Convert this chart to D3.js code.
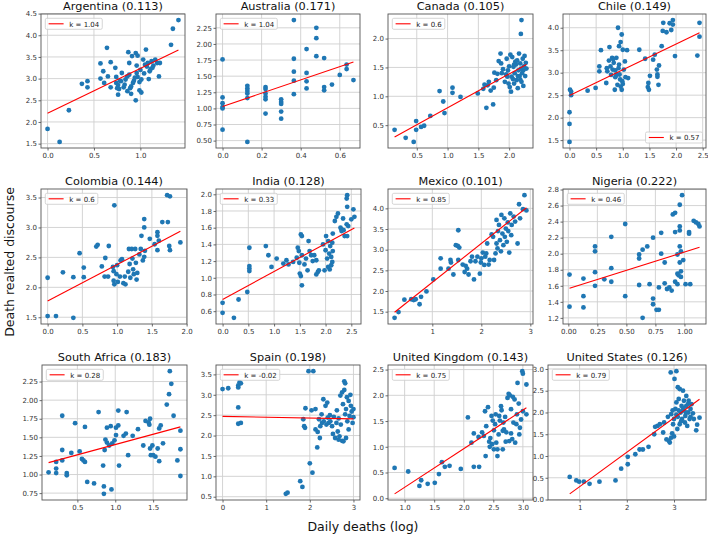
<!DOCTYPE html>
<html><head><meta charset="utf-8">
<script src="https://cdn.jsdelivr.net/npm/d3@7"></script>
<style>body{margin:0;background:#fff} svg{display:block;font-family:"DejaVu Sans",sans-serif}</style>
</head><body><svg id="c" width="708" height="538"></svg>
<script>
const countries = ["Argentina","Australia","Canada","Chile","Colombia","India","Mexico","Nigeria","South Africa","Spain","United Kingdom","United States"];
const scores = ["0.113","0.171","0.105","0.149","0.144","0.128","0.101","0.222","0.183","0.198","0.143","0.126"];
const kLabels = ["1.04","1.04","0.6","0.57","0.6","0.33","0.85","0.46","0.28","-0.02","0.75","0.79"];
const fitIntercept = [2.2,1.03,0.213,2.49,1.77,0.74,1.27,1.565,1.127,2.47,-0.5375,-0.494];
const fitSlope = [1.035,1.03,0.587,0.574,0.61,0.335,0.94,0.455,0.276,-0.02,0.75,0.79];
const xTicks = [[0,0.5,1.0],[0,0.2,0.4,0.6],[0.5,1.0,1.5,2.0],[0,0.5,1.0,1.5,2.0,2.5],[0,0.5,1.0,1.5,2.0],[0,0.5,1.0,1.5,2.0,2.5],[1,2,3],[0,0.25,0.5,0.75,1.0],[0.5,1.0,1.5],[0,1,2,3],[1.0,1.5,2.0,2.5,3.0],[1,2,3]];
const yTicks = [[1.5,2,2.5,3,3.5,4,4.5],[0.5,0.75,1,1.25,1.5,1.75,2,2.25],[0.5,1,1.5,2],[1.5,2,2.5,3,3.5,4],[1.5,2,2.5,3,3.5],[0.6,0.8,1,1.2,1.4,1.6,1.8,2],[1.5,2,2.5,3,3.5,4],[1.2,1.4,1.6,1.8,2,2.2,2.4,2.6,2.8],[0.75,1,1.25,1.5,1.75,2,2.25],[0.5,1,1.5,2,2.5,3,3.5],[0,0.5,1,1.5,2,2.5],[0,0.5,1,1.5,2,2.5,3]];
const xDecimals = [1,1,1,1,1,1,0,2,1,0,1,0];
const yDecimals = [1,2,1,1,1,1,1,1,2,1,1,1];
const xLimitLow = [null,null,null,null,null,null,null,null,null,null,null,0.33];

const argentina = [[0,1.84],[0.13,1.54],[0.23,2.27],[0.37,2.88],[0.43,2.94],[0.43,2.80],[0.57,3.35],[0.57,3.0],[0.60,3.17],[0.61,2.9],[0.64,3.71],[0.65,3.05],[0.68,3.38],[0.68,2.8],[0.73,3.25],[0.74,3.04],[0.74,2.9],[0.76,2.63],[0.77,2.76],[0.79,2.94],[0.80,3.13],[0.82,2.8],[0.84,2.98],[0.86,2.71],[0.87,3.61],[0.88,3.36],[0.88,3.09],[0.89,2.78],[0.90,2.65],[0.91,3.52],[0.92,2.9],[0.93,2.95],[0.95,2.5],[0.95,3.59],[0.96,3.3],[0.96,3.13],[0.97,3.53],[0.97,3.04],[0.99,2.92],[0.99,2.73],[1.01,2.68],[1.01,2.98],[1.03,3.44],[1.04,3.12],[1.06,3.67],[1.07,3.28],[1.08,3.36],[1.09,2.99],[1.10,3.17],[1.12,3.40],[1.13,3.25],[1.14,3.3],[1.16,3.44],[1.18,3.36],[1.20,3.05],[1.21,3.36],[1.33,3.78],[1.35,4.15],[1.41,4.35],[0.78,2.95],[0.83,2.86],[0.86,3.05],[0.94,3.02],[1.0,3.2],[1.05,3.32],[1.11,3.22],[0.76,2.85],[0.9,2.82],[0.75,2.78]];
const australia = [[0,1.76],[0,1.17],[0,1.08],[0,1.02],[0,0.67],[0,1.0],[0.127,1.35],[0.127,1.31],[0.127,1.27],[0.127,1.23],[0.127,1.16],[0.127,0.48],[0.22,1.33],[0.22,1.30],[0.22,1.23],[0.22,1.18],[0.22,1.14],[0.22,0.92],[0.3,1.14],[0.3,1.10],[0.3,1.07],[0.3,0.95],[0.3,0.84],[0.365,2.37],[0.365,1.77],[0.365,1.57],[0.365,1.43],[0.365,1.22],[0.43,1.92],[0.43,1.55],[0.43,1.42],[0.43,1.31],[0.48,2.25],[0.48,2.09],[0.48,1.81],[0.52,1.78],[0.52,1.33],[0.52,1.28],[0.56,1.37],[0.6,1.52],[0.635,1.68],[0.635,1.61],[0.67,1.44]];
const canada = [[0.14,0.42],[0.32,0.28],[0.45,0.21],[0.49,0.57],[0.49,0.42],[0.57,0.47],[0.62,0.49],[0.72,0.66],[0.87,1.09],[0.93,0.91],[0.95,0.71],[1.08,1.15],[1.08,1.06],[1.21,0.99],[1.49,1.05],[1.63,0.80],[1.74,0.86],[1.65,1.19],[1.70,1.10],[1.75,1.15],[1.79,1.28],[1.81,1.39],[1.83,1.61],[1.86,1.74],[1.87,1.57],[1.88,1.40],[1.93,1.25],[1.96,1.65],[1.97,1.34],[1.98,1.45],[2.01,1.16],[2.03,1.08],[2.04,1.34],[2.05,1.68],[2.07,1.51],[2.08,1.22],[2.09,1.40],[2.10,1.60],[2.12,1.28],[2.14,1.14],[2.15,1.45],[2.16,1.74],[2.17,1.35],[2.18,1.57],[2.19,2.08],[2.20,2.32],[2.20,1.25],[2.22,1.65],[2.23,1.45],[1.90,1.47],[1.95,1.38],[2.00,1.52],[2.06,1.30],[2.11,1.55],[2.13,1.62],[2.19,1.48],[2.21,1.40],[2.24,1.52],[2.25,1.70],[2.27,1.58],[2.26,1.35],[2.28,1.48],[1.60,1.20],[1.58,1.13],[1.67,1.25],[1.76,1.41],[1.99,1.22],[2.02,1.72],[2.08,1.55],[2.14,1.35],[2.18,1.29],[2.23,1.18]];
const chile = [[0,1.46],[0,1.86],[0,2.12],[0.03,2.5],[0.03,2.58],[0.01,2.62],[0.34,2.6],[0.49,2.66],[0.56,3.14],[0.56,3.03],[0.59,3.5],[0.69,2.77],[0.71,3.03],[0.74,3.27],[0.75,3.57],[0.77,3.14],[0.80,3.33],[0.81,3.07],[0.83,3.22],[0.85,2.62],[0.86,2.90],[0.88,3.33],[0.90,2.73],[0.91,4.0],[0.93,3.59],[0.93,3.18],[0.94,2.96],[0.96,3.68],[0.96,2.69],[0.98,2.62],[0.98,3.85],[0.99,2.81],[1.0,3.51],[1.02,3.07],[1.04,3.25],[1.05,2.9],[1.08,3.5],[1.10,2.88],[0.78,2.95],[0.86,3.05],[0.92,3.1],[0.95,2.85],[1.0,2.75],[0.82,3.3],[0.7,3.1],[0.88,2.95],[1.31,3.51],[1.42,3.31],[1.47,2.68],[1.49,2.62],[1.51,2.93],[1.48,2.77],[1.57,3.29],[1.60,3.40],[1.64,3.07],[1.65,2.96],[1.67,2.73],[1.68,3.16],[1.65,2.91],[1.73,3.59],[1.76,4.11],[1.75,3.93],[1.82,3.90],[1.88,4.10],[1.91,3.95],[1.94,4.17],[1.94,4.07],[1.98,3.37],[2.40,3.38],[2.44,4.11],[2.44,3.80]];
const colombia = [[0,2.16],[0,1.52],[0.12,1.52],[0.22,2.25],[0.37,2.17],[0.37,1.49],[0.46,2.57],[0.52,2.33],[0.52,2.17],[0.70,2.68],[0.72,2.71],[0.78,2.35],[0.83,2.49],[0.82,2.18],[0.88,2.69],[0.87,2.18],[0.94,2.34],[0.96,3.37],[0.95,2.27],[0.95,2.11],[0.96,2.05],[0.99,2.22],[1.0,2.37],[1.01,2.09],[1.04,2.18],[1.05,2.45],[1.07,2.47],[1.09,2.07],[1.11,2.18],[1.12,2.05],[1.16,2.26],[1.17,2.64],[1.18,2.39],[1.19,2.16],[1.21,2.64],[1.22,2.48],[1.23,2.30],[1.24,2.22],[1.26,2.64],[1.27,2.41],[1.28,2.13],[1.29,2.24],[1.32,2.55],[1.34,2.64],[1.35,2.86],[1.37,2.45],[1.39,3.14],[1.39,3.0],[1.39,2.51],[1.40,2.61],[1.47,2.81],[1.54,2.72],[1.58,2.92],[1.58,2.86],[1.60,2.78],[1.58,2.62],[1.65,3.09],[1.72,3.54],[1.73,3.09],[1.76,3.52],[1.75,2.69],[1.76,2.62],[1.91,2.75]];
const india = [[0,0.70],[0,0.58],[0.22,0.52],[0.31,0.74],[0.48,0.83],[0.52,1.36],[0.52,1.14],[0.52,1.11],[0.52,1.08],[0.84,1.38],[0.89,1.27],[0.95,1.13],[1.05,1.23],[1.18,1.17],[1.24,1.21],[1.28,1.16],[1.37,1.19],[1.44,1.24],[1.46,1.36],[1.48,1.32],[1.49,1.18],[1.50,1.05],[1.52,1.02],[1.52,1.52],[1.54,1.50],[1.54,0.91],[1.54,1.27],[1.59,1.16],[1.62,1.23],[1.65,1.09],[1.67,1.44],[1.69,1.32],[1.72,1.27],[1.75,1.20],[1.78,1.27],[1.82,1.04],[1.85,1.07],[1.87,1.09],[1.82,1.21],[1.95,1.40],[1.98,1.09],[2.0,1.33],[2.01,1.50],[2.03,1.23],[2.05,1.13],[2.05,1.44],[2.07,1.29],[2.08,1.10],[2.09,1.38],[2.11,1.25],[2.11,1.15],[2.13,1.42],[2.14,1.53],[2.14,1.32],[2.13,1.19],[2.18,1.68],[2.21,1.73],[2.24,1.77],[2.29,1.60],[2.31,1.58],[2.31,1.56],[2.34,1.71],[2.35,1.57],[2.37,1.50],[2.41,1.64],[2.41,1.95],[2.42,1.99],[2.42,1.85],[2.44,1.62],[2.42,1.50],[2.50,1.70],[2.54,1.82],[2.56,1.73]];
const mexico = [[0.23,1.35],[0.31,1.49],[0.43,1.79],[0.57,1.80],[0.62,1.78],[0.66,1.80],[0.74,1.68],[0.77,1.86],[0.88,1.99],[1.02,2.28],[1.17,2.54],[1.17,2.79],[1.33,2.54],[1.37,2.75],[1.38,2.69],[1.43,2.40],[1.48,3.11],[1.53,3.47],[1.52,3.09],[1.55,3.05],[1.53,2.75],[1.62,2.64],[1.66,2.46],[1.68,2.61],[1.71,2.54],[1.74,2.40],[1.78,2.72],[1.81,2.83],[1.85,2.28],[1.88,2.72],[1.92,2.83],[1.97,2.42],[1.99,2.69],[2.0,2.79],[2.03,2.93],[2.06,2.63],[2.08,2.83],[2.10,2.91],[2.12,3.15],[2.15,2.64],[2.17,2.75],[2.21,3.37],[2.24,3.31],[2.26,2.75],[2.29,2.91],[2.31,3.72],[2.31,3.15],[2.33,3.03],[2.34,3.45],[2.36,3.60],[2.38,3.23],[2.40,2.96],[2.41,3.84],[2.43,3.39],[2.45,3.11],[2.47,3.76],[2.48,3.31],[2.50,3.51],[2.52,3.19],[2.54,3.66],[2.55,3.45],[2.57,2.93],[2.59,3.88],[2.61,3.35],[2.62,3.60],[2.66,3.80],[2.69,3.68],[2.74,3.15],[2.77,4.10],[2.79,3.76],[2.85,3.98],[2.88,4.32],[2.92,3.95]];
const nigeria = [[0.01,1.74],[0.01,1.34],[0.13,1.69],[0.13,1.47],[0.13,1.33],[0.23,2.09],[0.23,2.03],[0.23,1.77],[0.23,1.60],[0.31,1.68],[0.37,2.21],[0.37,1.82],[0.37,1.65],[0.49,2.37],[0.49,1.47],[0.61,1.99],[0.61,1.94],[0.61,1.61],[0.64,2.05],[0.64,1.20],[0.68,2.09],[0.70,1.62],[0.73,2.20],[0.73,1.44],[0.73,1.37],[0.76,1.30],[0.78,1.58],[0.78,1.30],[0.80,2.0],[0.80,2.26],[0.83,1.89],[0.83,1.63],[0.85,1.56],[0.87,1.58],[0.89,1.54],[0.90,2.49],[0.92,2.51],[0.92,1.65],[0.92,2.27],[0.94,1.75],[0.94,1.62],[0.94,1.99],[0.95,1.73],[0.96,1.89],[0.96,2.61],[0.96,2.34],[0.96,2.29],[0.96,2.09],[0.97,2.03],[0.97,1.78],[0.97,1.71],[0.98,2.73],[0.99,1.92],[1.01,1.62],[1.04,2.27],[1.04,2.25],[1.05,1.62],[1.08,2.41],[1.10,2.39],[1.12,2.37],[1.13,2.34]];
const southAfrica = [[0.12,1.03],[0.22,1.17],[0.22,1.08],[0.22,1.02],[0.30,1.79],[0.30,1.33],[0.30,1.19],[0.36,1.02],[0.36,0.99],[0.42,1.29],[0.47,1.69],[0.53,1.31],[0.56,1.21],[0.58,1.19],[0.60,1.17],[0.60,1.64],[0.63,0.90],[0.72,0.88],[0.78,1.84],[0.84,1.12],[0.85,0.84],[0.85,0.74],[0.86,1.33],[0.87,1.47],[0.89,1.63],[0.89,1.43],[0.92,1.39],[0.94,1.65],[0.95,0.80],[0.96,1.42],[0.99,1.46],[1.01,1.53],[1.01,1.63],[1.04,1.66],[1.04,1.86],[1.05,1.12],[1.11,1.52],[1.14,1.55],[1.15,1.84],[1.17,1.26],[1.23,1.52],[1.30,1.61],[1.37,1.39],[1.40,1.72],[1.44,1.70],[1.45,1.67],[1.46,1.75],[1.46,1.35],[1.47,1.26],[1.49,1.39],[1.50,1.26],[1.53,1.24],[1.56,1.35],[1.58,1.18],[1.58,1.62],[1.60,1.66],[1.63,1.42],[1.68,1.94],[1.71,2.08],[1.72,2.39],[1.74,2.22],[1.77,1.79],[1.82,1.19],[1.86,1.34],[1.86,0.98],[1.86,1.59]];
const spain = [[0,3.14],[0.13,3.16],[0.36,3.23],[0.36,3.18],[0.39,3.31],[0.42,3.28],[0.36,2.69],[0.36,2.29],[0.42,2.31],[1.45,0.57],[1.49,0.60],[1.78,0.88],[1.83,0.74],[1.85,2.40],[1.87,2.23],[1.89,2.19],[1.90,2.67],[1.97,3.58],[2.08,3.58],[2.0,1.32],[2.06,1.09],[2.04,2.62],[2.13,2.65],[2.13,2.15],[2.17,1.71],[2.18,2.09],[2.21,2.40],[2.23,1.94],[2.24,2.23],[2.27,2.52],[2.28,2.31],[2.31,2.89],[2.32,2.35],[2.36,2.73],[2.38,2.27],[2.40,2.81],[2.41,2.44],[2.43,2.31],[2.46,2.50],[2.47,2.35],[2.51,2.23],[2.53,2.04],[2.55,2.46],[2.58,1.94],[2.61,2.31],[2.62,2.62],[2.64,2.10],[2.66,1.90],[2.66,2.42],[2.68,1.98],[2.70,2.98],[2.71,2.27],[2.74,1.87],[2.74,3.06],[2.76,2.77],[2.77,1.86],[2.79,3.33],[2.79,3.12],[2.81,2.52],[2.81,3.28],[2.83,1.94],[2.83,2.65],[2.85,2.94],[2.86,2.35],[2.89,2.85],[2.89,2.15],[2.91,2.48],[2.93,3.0],[2.94,2.73],[2.96,2.59],[2.98,2.31],[3.0,2.45],[3.0,2.65]];
const unitedKingdom = [[0.83,0.59],[1.06,0.52],[1.25,0.24],[1.28,0.35],[1.39,0.28],[1.51,0.30],[1.58,0.47],[1.63,0.70],[1.68,0.61],[1.76,0.63],[1.95,0.57],[2.07,1.57],[2.13,1.08],[2.17,1.26],[2.17,0.61],[2.25,1.19],[2.26,0.61],[2.31,1.28],[2.34,1.21],[2.36,1.69],[2.37,0.82],[2.38,1.40],[2.41,1.77],[2.43,1.10],[2.44,1.00],[2.45,1.17],[2.47,1.60],[2.48,1.05],[2.49,1.51],[2.51,1.32],[2.51,0.95],[2.53,1.44],[2.54,1.63],[2.55,1.08],[2.57,0.82],[2.57,0.95],[2.59,1.24],[2.60,1.60],[2.61,1.51],[2.63,1.79],[2.64,1.71],[2.66,1.31],[2.66,0.95],[2.67,1.47],[2.68,1.34],[2.70,1.58],[2.71,1.10],[2.72,1.28],[2.74,1.95],[2.76,2.03],[2.77,1.11],[2.78,2.00],[2.80,1.26],[2.80,1.73],[2.82,1.15],[2.83,1.97],[2.84,1.47],[2.86,1.92],[2.87,1.08],[2.89,1.44],[2.90,1.63],[2.91,2.24],[2.93,1.84],[2.94,1.24],[2.95,1.37],[2.97,1.53],[2.99,2.47],[3.0,2.42],[3.0,1.69],[3.06,1.63],[3.06,2.21]];
const unitedStates = [[0.79,0.52],[0.93,0.44],[0.99,0.41],[1.09,0.41],[1.21,0.36],[1.42,0.41],[1.76,0.44],[1.88,0.71],[2.02,0.81],[2.02,0.98],[2.18,1.04],[2.27,1.15],[2.34,1.15],[2.46,1.21],[2.58,1.50],[2.60,1.67],[2.65,1.69],[2.70,1.73],[2.77,1.54],[2.79,1.77],[2.84,1.38],[2.87,1.90],[2.89,1.35],[2.91,1.31],[2.93,2.92],[2.94,1.96],[2.94,1.42],[2.96,1.52],[2.98,1.73],[3.0,1.85],[3.01,2.77],[3.03,2.08],[3.05,2.95],[3.05,2.23],[3.07,1.62],[3.08,2.58],[3.08,1.90],[3.10,2.31],[3.12,1.73],[3.12,2.54],[3.14,2.0],[3.16,2.15],[3.17,1.85],[3.19,2.50],[3.19,2.05],[3.21,2.27],[3.23,1.77],[3.24,1.92],[3.26,2.38],[3.26,2.15],[3.28,1.69],[3.30,2.0],[3.31,2.27],[3.33,1.85],[3.35,2.08],[3.37,2.19],[3.40,1.98],[3.42,1.85],[3.47,1.59],[3.49,1.72],[3.54,1.88],[3.0,1.45],[2.97,2.05],[3.05,1.95],[3.1,2.05],[3.15,1.8],[3.2,2.1],[3.25,2.0],[3.3,2.2],[3.35,1.9]];
const series = [argentina,australia,canada,chile,colombia,india,mexico,nigeria,southAfrica,spain,unitedKingdom,unitedStates];

const svg = d3.select("#c");
svg.append("rect").attr("width",708).attr("height",538).attr("fill","#fff");
const boxes = [
 [41,14,185,148],[216,14,360,148],[388,14,533,148],[563,14,706,148],
 [41,189,187,324],[216,189,361,324],[388,189,533,324],[563,189,706,324],
 [42,365,187,500],[216,365,360,500],[388,365,533,500],[548,365,706,500]
];
countries.forEach((name,i)=>{
  const [l,t,r,b] = boxes[i];
  const pts = series[i];
  const xmin = d3.min(pts,d=>d[0]), xmax = d3.max(pts,d=>d[0]);
  const ly = [fitIntercept[i]+fitSlope[i]*xmin, fitIntercept[i]+fitSlope[i]*xmax];
  const ymin = Math.min(d3.min(pts,d=>d[1]),...ly), ymax = Math.max(d3.max(pts,d=>d[1]),...ly);
  const px=(xmax-xmin)*0.05, py=(ymax-ymin)*0.05;
  const x0 = xLimitLow[i]!==null ? xLimitLow[i] : xmin-px;
  const x = d3.scaleLinear().domain([x0,xmax+px]).range([l,r]);
  const y = d3.scaleLinear().domain([ymin-py,ymax+py]).range([b,t]);
  const g = svg.append("g");
  g.selectAll(".gx").data(xTicks[i]).join("line").attr("x1",d=>x(d)).attr("x2",d=>x(d)).attr("y1",t).attr("y2",b).attr("stroke","#cfcfcf").attr("stroke-width",0.9);
  g.selectAll(".gy").data(yTicks[i]).join("line").attr("y1",d=>y(d)).attr("y2",d=>y(d)).attr("x1",l).attr("x2",r).attr("stroke","#cfcfcf").attr("stroke-width",0.9);
  const ax = g.append("g").attr("transform",`translate(0,${b})`)
    .call(d3.axisBottom(x).tickValues(xTicks[i]).tickFormat(d3.format("."+xDecimals[i]+"f")).tickSize(2.5).tickPadding(2.5));
  const ay = g.append("g").attr("transform",`translate(${l},0)`)
    .call(d3.axisLeft(y).tickValues(yTicks[i]).tickFormat(d3.format("."+yDecimals[i]+"f")).tickSize(2.5).tickPadding(1.5));
  [ax,ay].forEach(a=>{
    a.select(".domain").remove();
    a.selectAll("line").attr("stroke","#444").attr("stroke-width",0.8);
    a.selectAll("text").attr("font-size","7px").attr("fill","#333").attr("font-family","DejaVu Sans");
  });
  g.append("rect").attr("x",l).attr("y",t).attr("width",r-l).attr("height",b-t).attr("fill","none").attr("stroke","#555").attr("stroke-width",0.9);
  g.selectAll("circle").data(pts).join("circle").attr("cx",d=>x(d[0])).attr("cy",d=>y(d[1])).attr("r",2.4).attr("fill","#1f77b4");
  g.append("line").attr("x1",x(xmin)).attr("y1",y(ly[0])).attr("x2",x(xmax)).attr("y2",y(ly[1])).attr("stroke","#ff0000").attr("stroke-width",1.1);
  g.append("text").attr("x",(l+r)/2).attr("y",t-4.5).attr("text-anchor","middle").attr("font-size","11.3px").attr("fill","#111").text(`${name} (${scores[i]})`);
  const lg = g.append("g");
  const box = lg.append("rect").attr("rx",1.5).attr("fill","#fff").attr("fill-opacity",0.8).attr("stroke","#ccc").attr("stroke-width",0.8);
  const line = lg.append("line").attr("stroke","#ff0000").attr("stroke-width",1.1);
  const txt = lg.append("text").attr("font-size","7px").attr("fill","#222").text(`k = ${kLabels[i]}`);
  const tw = txt.node().getComputedTextLength();
  const bw = 24 + tw + 3, bh = 11;
  const bx = i===3 ? r - 3.5 - bw : l + 4.3;
  const by = i===3 ? b - 5 - bh : t + 4.3;
  box.attr("x",bx).attr("y",by).attr("width",bw).attr("height",bh);
  line.attr("x1",bx+3.3).attr("x2",bx+18.3).attr("y1",by+5.5).attr("y2",by+5.5);
  txt.attr("x",bx+24).attr("y",by+8.2);
});
svg.append("text").attr("transform","translate(14,262) rotate(-90)").attr("text-anchor","middle").attr("font-size","12.5px").attr("fill","#111").text("Death realted discourse");
svg.append("text").attr("x",363).attr("y",531).attr("text-anchor","middle").attr("font-size","12.5px").attr("fill","#111").text("Daily deaths (log)");
</script></body></html>
